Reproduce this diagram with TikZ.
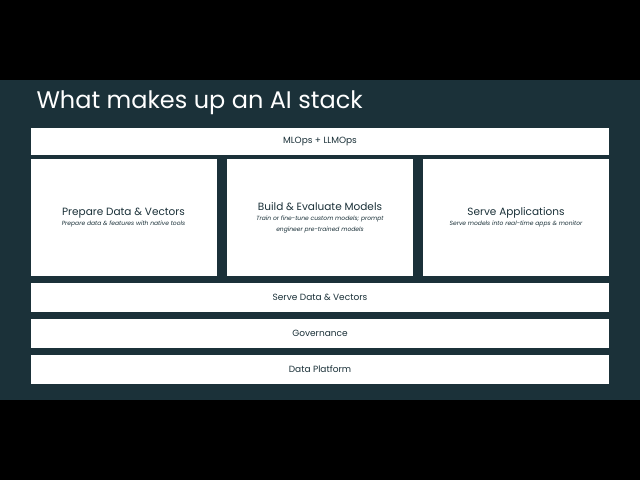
\documentclass[tikz,border=0pt]{standalone}
\usepackage{fontspec}
\setmainfont{Poppins}
\usetikzlibrary{positioning}
\definecolor{navy}{HTML}{1B3139}
\begin{document}
\begin{tikzpicture}[
    x = 1pt, y = -1pt, % pixel units
    bar/.style = {fill = white, minimum width = 578pt, minimum height = 27pt,
      inner sep = 0pt, text = navy, font = \fontsize{9}{11}\selectfont},
    tile/.style = {fill = white, minimum width = 186pt, minimum height = 117pt,
      inner sep = 0pt, text = navy, align = center},
    ]
    \fill[black] (0,0) rectangle (640,480);
    \fill[navy] (0,80) rectangle (640,400);
    \node[anchor = west, white, font = \fontsize{24}{28}\selectfont] (title) at (33,103) {What makes up an AI stack};

    \node[bar] (ops) at (320,141) {MLOps + LLMOps};
    \node[tile] (prep) at (123.5,217.5) {};
    \node[tile] (build) at (320,217.5) {};
    \node[tile] (apps) at (516,217.5) {};
    \node[bar, minimum height = 29pt] (servedata) at (320,297.5) {Serve Data \& Vectors};
    \node[bar, minimum height = 29pt] (gov) at (320,333.5) {Governance};
    \node[bar, minimum height = 29pt] (platform) at (320,369.5) {Data Platform};

    % tile texts
    \node[navy, align = center] at (prep) {{\fontsize{10.5}{12}\selectfont Prepare Data \& Vectors}\\[-2pt]
      {\fontsize{6}{7}\selectfont\itshape Prepare data \& features with native tools}};
    \node[navy, align = center] at (build) {{\fontsize{10.5}{12}\selectfont Build \& Evaluate Models}\\[-2pt]
      {\fontsize{6}{7}\selectfont\itshape Train or fine-tune custom models; prompt}\\[-1pt]
      {\fontsize{6}{7}\selectfont\itshape engineer pre-trained models}};
    \node[navy, align = center] at (apps) {{\fontsize{10.5}{12}\selectfont Serve Applications}\\[-2pt]
      {\fontsize{6}{7}\selectfont\itshape Serve models into real-time apps \& monitor}};
\end{tikzpicture}
\end{document}
